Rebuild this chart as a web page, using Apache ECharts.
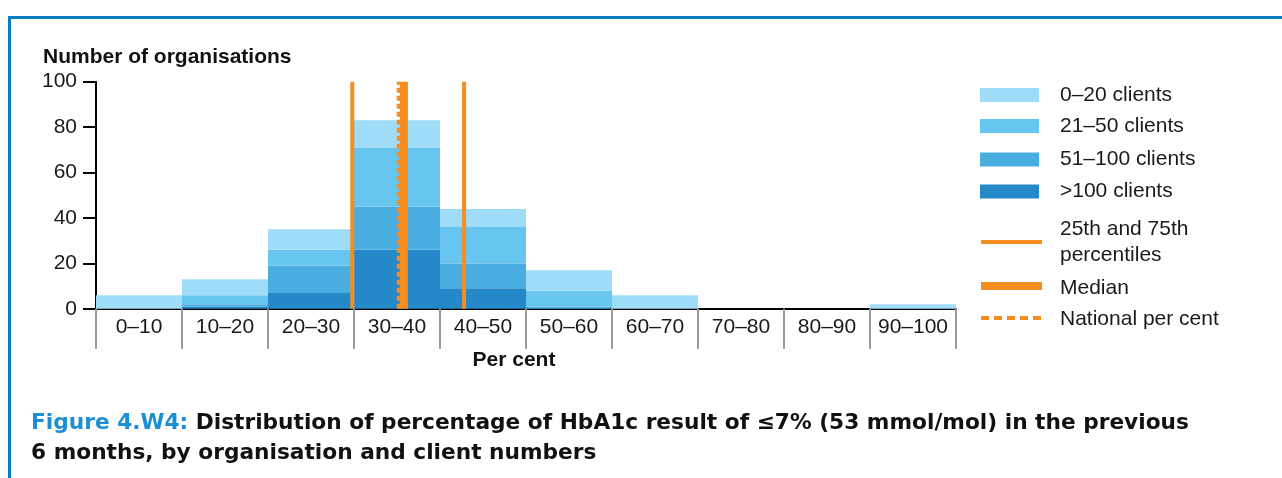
<!DOCTYPE html>
<html>
<head>
<meta charset="utf-8">
<script src="https://cdn.jsdelivr.net/npm/echarts@6/dist/echarts.min.js"></script>
<style>
html,body{margin:0;padding:0;background:#fff;}
#chart{width:1282px;height:478px;}
</style>
</head>
<body>
<div id="chart"></div>
<script>
const categories = ['0–10','10–20','20–30','30–40','40–50','50–60','60–70','70–80','80–90','90–100'];
const yTicks = [0, 20, 40, 60, 80, 100];
const clientsOver100 = [0, 1, 7, 26, 9, 0, 0, 0, 0, 0];
const clients51to100 = [0, 1, 12, 19, 11, 1, 0, 0, 0, 0];
const clients21to50  = [0, 4, 7, 26, 16, 7, 0, 0, 0, 0];
const clients0to20   = [6, 7, 9, 12, 8, 9, 6, 0, 0, 2];
const percentile25 = 29.8;
const percentile75 = 42.8;
const medianValue = 35.8;
const nationalValue = 35.2;
const seriesNames = ['0–20 clients','21–50 clients','51–100 clients','>100 clients'];

const C = {
  c0: '#9edcf7', c1: '#67c6ef', c2: '#4aaddf', c3: '#2589c9',
  orange: '#f68d20', frame: '#0b7dc3', capBlue: '#1a8fd5'
};
const FONT = "'Liberation Sans', Arial, sans-serif";
const CAP_FONT = "'DejaVu Sans', 'Liberation Sans', sans-serif";

const chart = echarts.init(document.getElementById('chart'), null, {renderer: 'canvas'});

function bar(name, data, color) {
  return {
    name, type: 'bar', stack: 'all', data, barWidth: '100%',
    itemStyle: {color}, xAxisIndex: 0, yAxisIndex: 0, silent: true
  };
}
function vline(name, x, width, type) {
  return {
    name, type: 'line', xAxisIndex: 1, yAxisIndex: 0, z: 5,
    symbol: 'none', silent: true,
    data: [[x, 0], [x, yTicks[yTicks.length - 1]]],
    lineStyle: {color: C.orange, width, type, cap: 'butt'}
  };
}

const legendY = [95, 126, 159.5, 191.5];
const legendColors = [C.c0, C.c1, C.c2, C.c3];
const legendGraphics = [];
seriesNames.forEach((n, i) => {
  legendGraphics.push({type: 'rect', shape: {x: 980, y: legendY[i] - 7, width: 59, height: 14}, style: {fill: legendColors[i]}});
  legendGraphics.push({type: 'text', x: 1060, y: legendY[i], style: {text: n, font: '21px ' + FONT, fill: '#1a1a1a', verticalAlign: 'middle'}});
});
legendGraphics.push({type: 'rect', shape: {x: 981, y: 240, width: 61, height: 4}, style: {fill: C.orange}});
legendGraphics.push({type: 'text', x: 1060, y: 229, style: {text: '25th and 75th', font: '21px ' + FONT, fill: '#1a1a1a', verticalAlign: 'middle'}});
legendGraphics.push({type: 'text', x: 1060, y: 255, style: {text: 'percentiles', font: '21px ' + FONT, fill: '#1a1a1a', verticalAlign: 'middle'}});
legendGraphics.push({type: 'rect', shape: {x: 981, y: 282, width: 61, height: 8}, style: {fill: C.orange}});
legendGraphics.push({type: 'text', x: 1060, y: 288, style: {text: 'Median', font: '21px ' + FONT, fill: '#1a1a1a', verticalAlign: 'middle'}});
legendGraphics.push({type: 'line', shape: {x1: 981, y1: 318, x2: 1042, y2: 318}, style: {stroke: C.orange, lineWidth: 4, lineDash: [8, 5]}});
legendGraphics.push({type: 'text', x: 1060, y: 319, style: {text: 'National per cent', font: '21px ' + FONT, fill: '#1a1a1a', verticalAlign: 'middle'}});

const option = {
  animation: false,
  backgroundColor: '#fff',
  textStyle: {fontFamily: FONT},
  title: [
    {text: 'Number of organisations', left: 43, top: 47, padding: 0,
     textStyle: {fontFamily: FONT, fontSize: 21, fontWeight: 'bold', color: '#111'}},
    {text: '{b|Figure 4.W4:} Distribution of percentage of HbA1c result of ≤7% (53 mmol/mol) in the previous\n6 months, by organisation and client numbers',
     left: 31, top: 408, padding: 0,
     textStyle: {fontFamily: CAP_FONT, fontSize: 21.7, fontWeight: 'bold', color: '#111', lineHeight: 30,
       rich: {b: {fontFamily: CAP_FONT, fontSize: 21.7, fontWeight: 'bold', color: C.capBlue, lineHeight: 30}}}}
  ],
  grid: {left: 96, right: 326, top: 81.7, bottom: 169.2, containLabel: false},
  xAxis: [
    {type: 'category', data: categories, boundaryGap: true,
     axisLine: {show: true, lineStyle: {color: '#000', width: 2}},
     axisTick: {show: true, length: 40, alignWithLabel: false, interval: 0, lineStyle: {color: '#999', width: 2}},
     axisLabel: {interval: 0, margin: 8, fontSize: 21, color: '#1a1a1a', fontFamily: FONT},
     name: 'Per cent', nameLocation: 'middle', nameGap: 41,
     nameTextStyle: {fontSize: 21, fontWeight: 'bold', color: '#111', padding: [0, 24, 0, 0], fontFamily: FONT}},
    {type: 'value', min: 0, max: 100, show: false}
  ],
  yAxis: [
    {type: 'value', min: 0, max: 100, interval: 20,
     axisLine: {show: true, lineStyle: {color: '#000', width: 2}},
     axisTick: {show: true, length: 13, lineStyle: {color: '#000', width: 2}},
     axisLabel: {margin: 19, fontSize: 21, color: '#1a1a1a', fontFamily: FONT},
     splitLine: {show: false}}
  ],
  series: [
    bar(seriesNames[3], clientsOver100, C.c3),
    bar(seriesNames[2], clients51to100, C.c2),
    bar(seriesNames[1], clients21to50, C.c1),
    bar(seriesNames[0], clients0to20, C.c0),
    vline('25th percentile', percentile25, 4, 'solid'),
    vline('75th percentile', percentile75, 4, 'solid'),
    vline('Median', medianValue, 8, 'solid'),
    vline('National per cent', nationalValue, 4, [5, 3])
  ],
  graphic: [
    {type: 'rect', shape: {x: 8, y: 16, width: 1274, height: 3}, style: {fill: C.frame}, silent: true},
    {type: 'rect', shape: {x: 8, y: 16, width: 3, height: 462}, style: {fill: C.frame}, silent: true}
  ].concat(legendGraphics)
};
chart.setOption(option);
</script>
</body>
</html>
